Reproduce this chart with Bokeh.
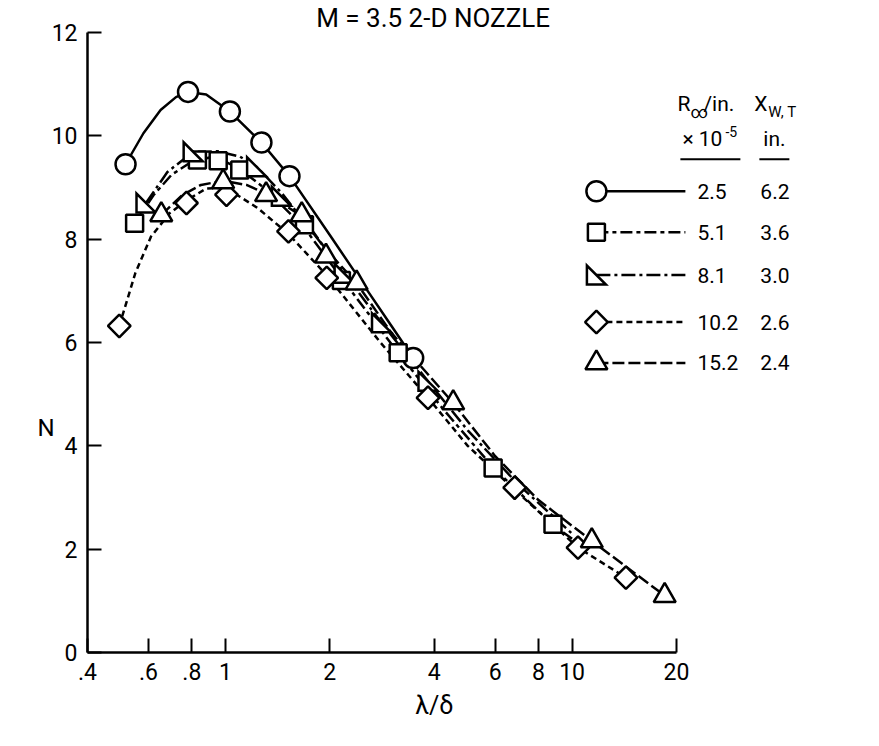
import math
from bokeh.plotting import figure
from bokeh.models import Range1d, FixedTicker, Label, Title, LinearAxis
from bokeh.embed import file_html
from bokeh.resources import INLINE

# ---------------- data ----------------
title_text = "M = 3.5 2-D NOZZLE"
x_label_text = "λ/δ"
y_label_text = "N"

x_ticks = [0.4, 0.6, 0.8, 1, 2, 4, 6, 8, 10, 20]
x_tick_labels = [".4", ".6", ".8", "1", "2", "4", "6", "8", "10", "20"]
y_ticks = [0, 2, 4, 6, 8, 10, 12]
y_tick_labels = ["0", "2", "4", "6", "8", "10", "12"]

r_labels = ["2.5", "5.1", "8.1", "10.2", "15.2"]
xwt_labels = ["6.2", "3.6", "3.0", "2.6", "2.4"]

# measured points
circ_x = [0.515, 0.78, 1.03, 1.27, 1.53, 3.48]
circ_n = [9.45, 10.85, 10.47, 9.87, 9.22, 5.70]
sq_x = [0.547, 0.83, 0.953, 1.10, 1.69, 2.16, 3.15, 5.92, 8.81]
sq_n = [8.31, 9.53, 9.52, 9.34, 8.28, 7.20, 5.80, 3.57, 2.48]
rt_x = [0.59, 0.807, 1.23, 1.45, 2.2, 2.82, 3.84]
rt_n = [8.70, 9.69, 9.40, 8.83, 7.34, 6.38, 5.25]
dm_x = [0.494, 0.772, 1.007, 1.52, 1.96, 3.84, 6.83, 10.4, 14.3]
dm_n = [6.32, 8.70, 8.86, 8.15, 7.25, 4.93, 3.19, 2.03, 1.45]
tr_x = [0.653, 0.985, 1.31, 1.66, 1.95, 2.39, 4.54, 11.4, 18.5]
tr_n = [8.47, 9.11, 8.86, 8.47, 7.67, 7.15, 4.83, 2.16, 1.10]

# faired curves
c25_x = [0.515, 0.58, 0.65, 0.72, 0.78, 0.88, 1.03, 1.27, 1.53, 2.0, 2.5, 3.0, 3.48]
c25_n = [9.45, 10.05, 10.5, 10.75, 10.85, 10.8, 10.47, 9.87, 9.22, 8.08, 7.12, 6.34, 5.70]
c51_x = [0.547, 0.62, 0.7, 0.8, 0.9, 1.0, 1.1, 1.3, 1.69, 2.16, 3.15, 4.2, 5.92, 8.81, 10.0]
c51_n = [8.31, 8.85, 9.25, 9.5, 9.58, 9.5, 9.36, 8.98, 8.22, 7.25, 5.80, 4.75, 3.58, 2.47, 2.2]
c81_x = [0.59, 0.68, 0.807, 0.95, 1.1, 1.23, 1.45, 1.8, 2.2, 2.82, 3.84, 5.0, 7.0, 10.0]
c81_n = [8.70, 9.3, 9.69, 9.7, 9.6, 9.40, 8.9, 8.1, 7.34, 6.38, 5.25, 4.3, 3.25, 2.3]
c102_x = [0.494, 0.55, 0.61, 0.69, 0.772, 0.88, 1.0, 1.24, 1.52, 1.96, 2.8, 3.84, 5.0, 6.83, 10.4, 14.3]
c102_n = [6.32, 7.35, 8.05, 8.5, 8.75, 8.98, 9.0, 8.6, 8.1, 7.3, 6.0, 4.93, 4.0, 3.15, 2.03, 1.45]
c152_x = [0.653, 0.75, 0.85, 0.985, 1.15, 1.31, 1.66, 1.95, 2.39, 3.0, 4.54, 6.0, 8.0, 11.4, 18.5]
c152_n = [8.47, 8.85, 9.05, 9.13, 9.05, 8.88, 8.45, 7.8, 7.15, 6.2, 4.83, 3.8, 2.95, 2.16, 1.10]

# ---------------- layout ----------------
FONT = "Roboto"
X_MIN, X_MAX = 0.4, 45.0
Y_MIN, Y_MAX = 0.0, 12.0
FRAME_LEFT, FRAME_TOP = 95, 39           # page pixels
PX_DEC = 346.7
PX_UNIT = 51.75
FRAME_W = round(PX_DEC * math.log10(X_MAX / X_MIN))
FRAME_H = round(PX_UNIT * (Y_MAX - Y_MIN))
BL, BT = FRAME_LEFT - 8, FRAME_TOP - 8
W = BL + FRAME_W + 8
H = 736
BB = H - BT - FRAME_H
N_LABEL_LEVEL = 4.35      # height at which the "N" axis title sits


def X(px):
    return X_MIN * 10 ** ((px - FRAME_LEFT) / PX_DEC)


def Y(py):
    return Y_MAX - (py - FRAME_TOP) / PX_UNIT


def to_px(x):
    return FRAME_LEFT + PX_DEC * math.log10(x / X_MIN)


def to_py(n):
    return FRAME_TOP + (Y_MAX - n) * PX_UNIT


TITLE_CENTER_PX = to_px(4)

p = figure(x_axis_type="log", x_range=Range1d(X_MIN, X_MAX), y_range=Range1d(Y_MIN, Y_MAX),
           width=W, height=H, output_backend="svg", toolbar_location=None,
           min_border_left=BL, min_border_top=BT, min_border_right=8, min_border_bottom=BB)
p.grid.visible = False
p.outline_line_color = None
p.background_fill_color = "white"

# title (above the frame)
p.title.text = title_text
p.title.text_font = FONT
p.title.text_font_size = "26px"
p.title.text_font_style = "normal"
p.title.text_color = "black"
p.title.align = "left"
p.title.standoff = 0
p.title.offset = TITLE_CENTER_PX - FRAME_LEFT - 118

for ax in (p.xaxis[0], p.yaxis[0]):
    ax.axis_line_width = 2.5
    ax.axis_line_color = "black"
    ax.major_tick_in = 14
    ax.major_tick_out = 0
    ax.major_tick_line_width = 2
    ax.minor_tick_in = 0
    ax.minor_tick_out = 0
    ax.major_label_text_font = FONT
    ax.major_label_text_font_size = "23px"
    ax.major_label_text_color = "black"

p.xaxis.ticker = FixedTicker(ticks=x_ticks, minor_ticks=[])
p.xaxis.major_label_overrides = {t: l for t, l in zip(x_ticks, x_tick_labels)}
p.xaxis.bounds = (x_ticks[0], x_ticks[-1])
p.xaxis.major_label_standoff = 10
p.yaxis.ticker = FixedTicker(ticks=y_ticks, minor_ticks=[])
p.yaxis.major_label_overrides = {t: l for t, l in zip(y_ticks, y_tick_labels)}
p.yaxis.bounds = (y_ticks[0], y_ticks[-1])
p.yaxis.major_label_standoff = 10

# x axis title below the axis
p.add_layout(Title(text=x_label_text, text_font=FONT, text_font_size="25px", text_font_style="normal",
                   text_color="black", align="left", offset=TITLE_CENTER_PX - FRAME_LEFT - 19, standoff=12),
             "below")

# "N" written horizontally, left of the y tick labels (an extra bare axis carrying one label)
n_axis = LinearAxis(ticker=FixedTicker(ticks=[N_LABEL_LEVEL], minor_ticks=[]),
                    major_label_overrides={N_LABEL_LEVEL: y_label_text},
                    axis_line_color=None, major_tick_line_color=None, minor_tick_line_color=None,
                    major_label_text_font=FONT, major_label_text_font_size="24px",
                    major_label_text_color="black", major_label_standoff=-12)
p.add_layout(n_axis, "left")

LW = 2.5
dashes = ["solid", "12 4 4 4", "14 4 3 4", "6 4", "12 4"]
curves = [(c25_x, c25_n), (c51_x, c51_n), (c81_x, c81_n), (c102_x, c102_n), (c152_x, c152_n)]
for (cx, cn), d in zip(curves, dashes):
    p.line(cx, cn, line_color="black", line_width=LW, line_dash=d)


def rtri(xs, ns, h=9.5):
    pxs, pys = [], []
    for x, n in zip(xs, ns):
        cx, cy = to_px(x), to_py(n)
        pxs.append([X(cx - h), X(cx - h), X(cx + h)])
        pys.append([Y(cy - h), Y(cy + h), Y(cy + h)])
    return pxs, pys


def draw_markers(kind, xs, ns):
    if kind == "circle":
        p.scatter(xs, ns, marker="circle", size=20, fill_color="white", line_color="black", line_width=LW)
    elif kind == "square":
        p.scatter(xs, ns, marker="square", size=17, fill_color="white", line_color="black", line_width=LW)
    elif kind == "diamond":
        p.scatter(xs, ns, marker="square", angle=math.pi / 4, size=16, fill_color="white",
                  line_color="black", line_width=LW)
    elif kind == "triangle":
        p.scatter(xs, ns, marker="triangle", size=22, fill_color="white", line_color="black", line_width=LW)
    elif kind == "rtri":
        pxs, pys = rtri(xs, ns)
        p.patches(pxs, pys, fill_color="white", line_color="black", line_width=LW, line_join="miter")


kinds = ["circle", "square", "rtri", "diamond", "triangle"]
pts = [(circ_x, circ_n), (sq_x, sq_n), (rt_x, rt_n), (dm_x, dm_n), (tr_x, tr_n)]
for k, (xs, ns) in zip(kinds, pts):
    draw_markers(k, xs, ns)

# ---------------- legend (drawn by hand) ----------------
LEG_MARK_PX = 604
LEG_LINE_END_PX = 693
LEG_VAL_PX = 705
LEG_VAL2_PX = 768
LEG_ROWS_PY = [198, 239, 282, 329, 370]
for k, d, lab, lab2, py in zip(kinds, dashes, r_labels, xwt_labels, LEG_ROWS_PY):
    p.line([X(LEG_MARK_PX), X(LEG_LINE_END_PX)], [Y(py), Y(py)], line_color="black", line_width=LW, line_dash=d)
    draw_markers(k, [X(LEG_MARK_PX)], [Y(py)])
    p.add_layout(Label(x=X(LEG_VAL_PX), y=Y(py), text=lab, text_font=FONT, text_font_size="21px",
                       text_baseline="middle", text_align="left", text_color="black"))
    p.add_layout(Label(x=X(LEG_VAL2_PX), y=Y(py), text=lab2, text_font=FONT, text_font_size="21px",
                       text_baseline="middle", text_align="left", text_color="black"))


def lab(px, py, text, size="21px", align="left"):
    p.add_layout(Label(x=X(px), y=Y(py), text=text, text_font=FONT, text_font_size=size,
                       text_baseline="middle", text_align=align, text_color="black"))


# header column 1
lab(685, 111, "R")
lab(698, 119, "∞", size="17px")
lab(711, 111, "/in.")
lab(690, 146, "× 10")
lab(733, 138, "-5", size="14px")
p.line([X(688), X(748)], [Y(166), Y(166)], line_color="black", line_width=2)
# header column 2
lab(762, 111, "X")
lab(776, 119, "W, T", size="15px")
lab(771, 146, "in.")
p.line([X(767), X(797)], [Y(166), Y(166)], line_color="black", line_width=2)

open("out.html", "w").write(file_html(p, INLINE))
